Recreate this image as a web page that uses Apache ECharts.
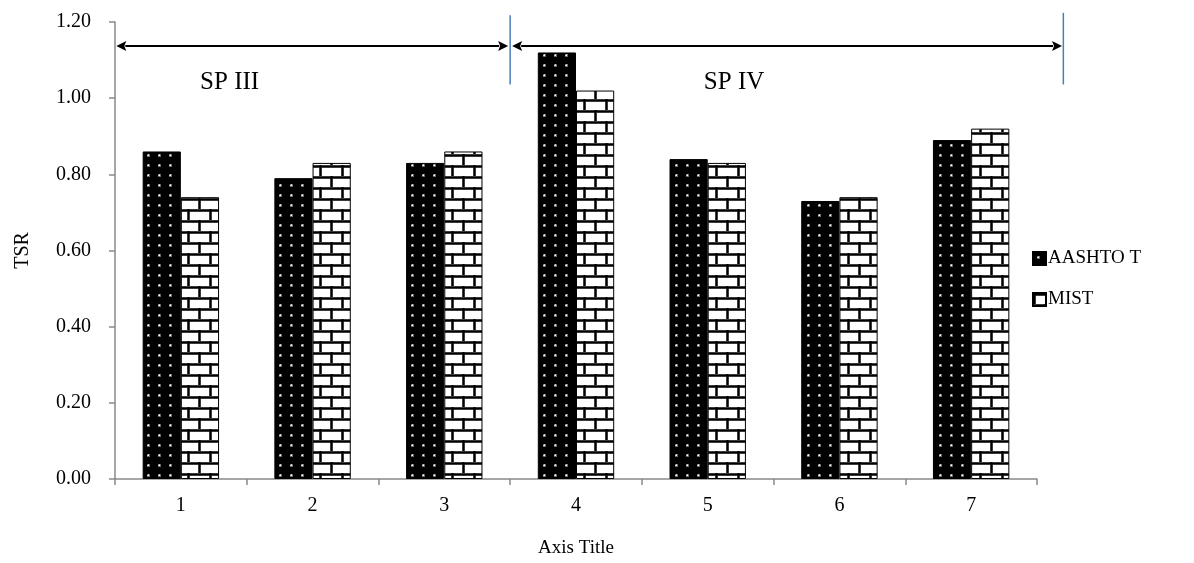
<!DOCTYPE html>
<html>
<head>
<meta charset="utf-8">
<script src="https://cdn.jsdelivr.net/npm/echarts@6/dist/echarts.min.js"></script>
<style>
html,body{margin:0;padding:0;background:#fff;}
#chart{width:1194px;height:563px;}
</style>
</head>
<body>
<div id="chart"></div>
<script>
// ---- data ----
const categories = ['1', '2', '3', '4', '5', '6', '7'];
const seriesNames = ['AASHTO T', 'MIST'];
const aashtoValues = [0.86, 0.79, 0.83, 1.12, 0.84, 0.73, 0.89];
const mistValues = [0.74, 0.83, 0.86, 1.02, 0.83, 0.74, 0.92];
const yTicks = { min: 0, max: 1.2, interval: 0.2 };
const xTitle = 'Axis Title';
const yTitle = 'TSR';
// annotations in data units (x: category-span units from left edge, y: TSR)
const arrowSpans = [[0.01, 2.985, 1.137], [3.015, 7.19, 1.137]];
const dividers = [[3.0, 1.036, 1.218], [7.2, 1.036, 1.224]];
const spanLabels = [['SP III', 0.87, 1.04], ['SP IV', 4.70, 1.04]];

// ---- patterns ----
function dotPattern() {
  const c = document.createElement('canvas');
  c.width = 11; c.height = 10;
  const g = c.getContext('2d');
  g.fillStyle = '#000'; g.fillRect(0, 0, 11, 10);
  g.fillStyle = '#6a6a6a'; g.fillRect(4, 4, 3, 3);
  g.fillStyle = '#ffffff'; g.fillRect(5, 5, 1, 1);
  g.fillStyle = '#c8c8c8'; g.fillRect(5, 4, 1, 1); g.fillRect(4, 5, 1, 1);
  return c;
}
function brickPattern() {
  const c = document.createElement('canvas');
  c.width = 22; c.height = 22;
  const g = c.getContext('2d');
  g.fillStyle = '#fff'; g.fillRect(0, 0, 22, 22);
  g.fillStyle = '#777';
  g.fillRect(0, 0, 22, 3); g.fillRect(0, 11, 22, 3);
  g.fillRect(0, 0, 3, 11); g.fillRect(11, 11, 3, 11);
  g.fillStyle = '#000';
  g.fillRect(0, 0.5, 22, 2); g.fillRect(0, 11.5, 22, 2);
  g.fillRect(0.5, 0, 2, 11); g.fillRect(11.5, 11, 2, 11);
  return c;
}
const dotFill = { image: dotPattern(), repeat: 'repeat' };
const brickFill = { image: brickPattern(), repeat: 'repeat' };

const FONT = 'Liberation Serif';
const axisGrey = '#898989';

const chart = echarts.init(document.getElementById('chart'));
chart.setOption({
  animation: false,
  backgroundColor: '#fff',
  textStyle: { fontFamily: FONT, color: '#000' },
  grid: { left: 115, right: 157, top: 22, bottom: 81 },
  legend: {
    data: seriesNames,
    orient: 'vertical',
    left: 1027,
    top: 244,
    itemWidth: 13,
    itemHeight: 13,
    itemGap: 22,
    icon: 'rect',
    textStyle: { fontFamily: FONT, fontSize: 19, color: '#000', padding: [0, 0, 0, -3] }
  },
  xAxis: [{
    type: 'category',
    data: categories,
    axisLine: { lineStyle: { color: axisGrey, width: 1.5 } },
    axisTick: { show: true, length: 6, lineStyle: { color: axisGrey, width: 1.5 } },
    axisLabel: { fontFamily: FONT, fontSize: 20, color: '#000', margin: 17 },
    name: xTitle,
    nameLocation: 'middle',
    nameGap: 60,
    nameTextStyle: { fontFamily: FONT, fontSize: 19, color: '#000' },
    splitLine: { show: false }
  }, {
    type: 'value', min: 0, max: 7, show: false, position: 'top'
  }],
  yAxis: {
    type: 'value',
    min: yTicks.min, max: yTicks.max, interval: yTicks.interval,
    axisLine: { show: true, lineStyle: { color: axisGrey, width: 1.5 } },
    axisTick: { show: true, length: 6, lineStyle: { color: axisGrey, width: 1.5 } },
    axisLabel: { fontFamily: FONT, fontSize: 20, color: '#000', margin: 24, formatter: v => v.toFixed(2) },
    splitLine: { show: false },
    name: yTitle,
    nameLocation: 'middle',
    nameGap: 82,
    nameRotate: 90,
    nameTextStyle: { fontFamily: FONT, fontSize: 20, color: '#000' }
  },
  series: [
    {
      name: seriesNames[0], type: 'bar', data: aashtoValues,
      barGap: '0%', barCategoryGap: '42%',
      itemStyle: { color: dotFill, borderColor: '#000', borderWidth: 1 }
    },
    {
      name: seriesNames[1], type: 'bar', data: mistValues,
      barGap: '0%', barCategoryGap: '42%',
      itemStyle: { color: brickFill, borderColor: '#000', borderWidth: 1 }
    },
    {
      type: 'custom', xAxisIndex: 1, yAxisIndex: 0, clip: false, silent: true, z: 5,
      data: arrowSpans,
      renderItem: (params, api) => {
        const p0 = api.coord([api.value(0), api.value(2)]);
        const p1 = api.coord([api.value(1), api.value(2)]);
        const h = 10, w = 5;
        return {
          type: 'group',
          children: [
            { type: 'line', shape: { x1: p0[0] + h - 1, y1: p0[1], x2: p1[0] - h + 1, y2: p1[1] }, style: { stroke: '#000', lineWidth: 2 } },
            { type: 'polygon', shape: { points: [[p0[0], p0[1]], [p0[0] + h, p0[1] - w], [p0[0] + h - 2, p0[1]], [p0[0] + h, p0[1] + w]] }, style: { fill: '#000' } },
            { type: 'polygon', shape: { points: [[p1[0], p1[1]], [p1[0] - h, p1[1] - w], [p1[0] - h + 2, p1[1]], [p1[0] - h, p1[1] + w]] }, style: { fill: '#000' } }
          ]
        };
      }
    },
    {
      type: 'custom', xAxisIndex: 1, yAxisIndex: 0, clip: false, silent: true, z: 5,
      data: dividers,
      renderItem: (params, api) => {
        const a = api.coord([api.value(0), api.value(1)]);
        const b = api.coord([api.value(0), api.value(2)]);
        return { type: 'line', shape: { x1: a[0], y1: a[1], x2: b[0], y2: b[1] }, style: { stroke: '#4a7ebb', lineWidth: 1.5 } };
      }
    },
    {
      type: 'custom', xAxisIndex: 1, yAxisIndex: 0, clip: false, silent: true, z: 5,
      data: spanLabels.map(d => [d[1], d[2]]),
      renderItem: (params, api) => {
        const p = api.coord([api.value(0), api.value(1)]);
        return {
          type: 'text', x: p[0], y: p[1],
          style: { text: spanLabels[params.dataIndex][0], fill: '#000', font: '25px "Liberation Serif"', align: 'center', verticalAlign: 'middle' }
        };
      }
    }
  ]
});
</script>
</body>
</html>
